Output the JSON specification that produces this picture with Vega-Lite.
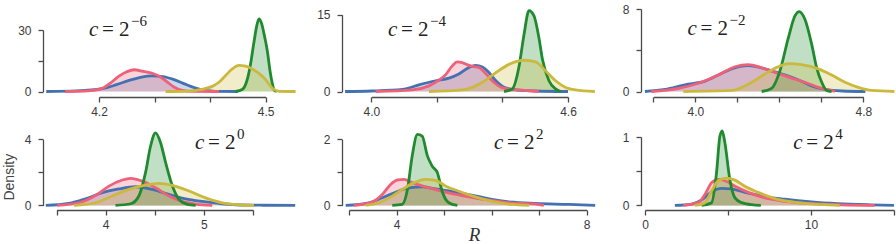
{
"$schema":"https://vega.github.io/schema/vega-lite/v6.json",
"background":"white",
"padding":{"left":2,"top":3,"right":0,"bottom":0},
"data":{"values":[
{"p":1,"s":"a","R":4.105,"d":0},{"p":1,"s":"a","R":4.16,"d":0.3},{"p":1,"s":"a","R":4.206,"d":1.4},{"p":1,"s":"a","R":4.23,"d":3.2},{"p":1,"s":"a","R":4.254,"d":5.4},{"p":1,"s":"a","R":4.275,"d":6.9},{"p":1,"s":"a","R":4.296,"d":7.6},{"p":1,"s":"a","R":4.315,"d":7.3},{"p":1,"s":"a","R":4.335,"d":5.8},{"p":1,"s":"a","R":4.355,"d":3.6},{"p":1,"s":"a","R":4.374,"d":1.7},{"p":1,"s":"a","R":4.392,"d":0.5},{"p":1,"s":"a","R":4.41,"d":0.1},{"p":1,"s":"a","R":4.45,"d":0},
{"p":1,"s":"b","R":4.139,"d":0},{"p":1,"s":"b","R":4.18,"d":0.3},{"p":1,"s":"b","R":4.206,"d":1.5},{"p":1,"s":"b","R":4.22,"d":4.0},{"p":1,"s":"b","R":4.236,"d":7.5},{"p":1,"s":"b","R":4.25,"d":9.6},{"p":1,"s":"b","R":4.263,"d":10.6},{"p":1,"s":"b","R":4.28,"d":9.8},{"p":1,"s":"b","R":4.296,"d":8.9},{"p":1,"s":"b","R":4.31,"d":7.2},{"p":1,"s":"b","R":4.322,"d":4.8},{"p":1,"s":"b","R":4.335,"d":2.2},{"p":1,"s":"b","R":4.35,"d":0.5},{"p":1,"s":"b","R":4.37,"d":0.05},{"p":1,"s":"b","R":4.416,"d":0},
{"p":1,"s":"c","R":4.446,"d":0},{"p":1,"s":"c","R":4.458,"d":1},{"p":1,"s":"c","R":4.466,"d":5},{"p":1,"s":"c","R":4.472,"d":12},{"p":1,"s":"c","R":4.479,"d":24},{"p":1,"s":"c","R":4.484,"d":32},{"p":1,"s":"c","R":4.488,"d":35.4},{"p":1,"s":"c","R":4.493,"d":33},{"p":1,"s":"c","R":4.498,"d":27},{"p":1,"s":"c","R":4.503,"d":20},{"p":1,"s":"c","R":4.508,"d":10},{"p":1,"s":"c","R":4.512,"d":4},{"p":1,"s":"c","R":4.516,"d":0.5},{"p":1,"s":"c","R":4.52,"d":0},
{"p":1,"s":"d","R":4.32,"d":0},{"p":1,"s":"d","R":4.355,"d":0.1},{"p":1,"s":"d","R":4.374,"d":0.6},{"p":1,"s":"d","R":4.39,"d":1.3},{"p":1,"s":"d","R":4.404,"d":2.5},{"p":1,"s":"d","R":4.416,"d":4.5},{"p":1,"s":"d","R":4.428,"d":7.8},{"p":1,"s":"d","R":4.44,"d":11.0},{"p":1,"s":"d","R":4.452,"d":12.7},{"p":1,"s":"d","R":4.464,"d":12.4},{"p":1,"s":"d","R":4.476,"d":11.0},{"p":1,"s":"d","R":4.488,"d":8.8},{"p":1,"s":"d","R":4.5,"d":5.8},{"p":1,"s":"d","R":4.508,"d":3.0},{"p":1,"s":"d","R":4.515,"d":1.0},{"p":1,"s":"d","R":4.525,"d":0.1},{"p":1,"s":"d","R":4.554,"d":0},
{"p":2,"s":"a","R":3.92,"d":0},{"p":2,"s":"a","R":4.0,"d":0.1},{"p":2,"s":"a","R":4.095,"d":0.4},{"p":2,"s":"a","R":4.145,"d":1.3},{"p":2,"s":"a","R":4.196,"d":2.1},{"p":2,"s":"a","R":4.237,"d":2.6},{"p":2,"s":"a","R":4.267,"d":3.4},{"p":2,"s":"a","R":4.298,"d":4.7},{"p":2,"s":"a","R":4.318,"d":5.1},{"p":2,"s":"a","R":4.339,"d":4.8},{"p":2,"s":"a","R":4.359,"d":3.7},{"p":2,"s":"a","R":4.38,"d":2.1},{"p":2,"s":"a","R":4.41,"d":0.7},{"p":2,"s":"a","R":4.45,"d":0.25},{"p":2,"s":"a","R":4.5,"d":0.1},{"p":2,"s":"a","R":4.6,"d":0},
{"p":2,"s":"b","R":4.013,"d":0},{"p":2,"s":"b","R":4.125,"d":0.3},{"p":2,"s":"b","R":4.176,"d":1.1},{"p":2,"s":"b","R":4.206,"d":2.2},{"p":2,"s":"b","R":4.227,"d":3.3},{"p":2,"s":"b","R":4.247,"d":5.0},{"p":2,"s":"b","R":4.262,"d":5.8},{"p":2,"s":"b","R":4.275,"d":5.7},{"p":2,"s":"b","R":4.29,"d":5.3},{"p":2,"s":"b","R":4.308,"d":4.9},{"p":2,"s":"b","R":4.328,"d":4.7},{"p":2,"s":"b","R":4.349,"d":3.5},{"p":2,"s":"b","R":4.374,"d":1.8},{"p":2,"s":"b","R":4.4,"d":0.7},{"p":2,"s":"b","R":4.45,"d":0.3},{"p":2,"s":"b","R":4.511,"d":0},
{"p":2,"s":"c","R":4.405,"d":0},{"p":2,"s":"c","R":4.43,"d":0.5},{"p":2,"s":"c","R":4.45,"d":4.7},{"p":2,"s":"c","R":4.466,"d":11.2},{"p":2,"s":"c","R":4.481,"d":15.8},{"p":2,"s":"c","R":4.496,"d":14.8},{"p":2,"s":"c","R":4.511,"d":10.6},{"p":2,"s":"c","R":4.522,"d":6.3},{"p":2,"s":"c","R":4.542,"d":2.1},{"p":2,"s":"c","R":4.562,"d":0.5},{"p":2,"s":"c","R":4.578,"d":0},
{"p":2,"s":"d","R":4.176,"d":0},{"p":2,"s":"d","R":4.278,"d":0.3},{"p":2,"s":"d","R":4.339,"d":1.8},{"p":2,"s":"d","R":4.38,"d":3.7},{"p":2,"s":"d","R":4.42,"d":5.3},{"p":2,"s":"d","R":4.466,"d":6.1},{"p":2,"s":"d","R":4.501,"d":5.8},{"p":2,"s":"d","R":4.532,"d":4.0},{"p":2,"s":"d","R":4.562,"d":2.1},{"p":2,"s":"d","R":4.593,"d":0.8},{"p":2,"s":"d","R":4.623,"d":0.3},{"p":2,"s":"d","R":4.682,"d":0},
{"p":3,"s":"a","R":3.76,"d":0},{"p":3,"s":"a","R":3.856,"d":0.2},{"p":3,"s":"a","R":3.951,"d":0.65},{"p":3,"s":"a","R":4.046,"d":1.0},{"p":3,"s":"a","R":4.11,"d":1.6},{"p":3,"s":"a","R":4.173,"d":2.2},{"p":3,"s":"a","R":4.252,"d":2.5},{"p":3,"s":"a","R":4.316,"d":2.3},{"p":3,"s":"a","R":4.379,"d":1.9},{"p":3,"s":"a","R":4.443,"d":1.5},{"p":3,"s":"a","R":4.506,"d":1.0},{"p":3,"s":"a","R":4.554,"d":0.55},{"p":3,"s":"a","R":4.617,"d":0.2},{"p":3,"s":"a","R":4.7,"d":0.05},{"p":3,"s":"a","R":4.81,"d":0},
{"p":3,"s":"b","R":3.79,"d":0},{"p":3,"s":"b","R":3.92,"d":0.3},{"p":3,"s":"b","R":4.014,"d":0.8},{"p":3,"s":"b","R":4.11,"d":1.6},{"p":3,"s":"b","R":4.189,"d":2.4},{"p":3,"s":"b","R":4.252,"d":2.6},{"p":3,"s":"b","R":4.316,"d":2.3},{"p":3,"s":"b","R":4.379,"d":1.85},{"p":3,"s":"b","R":4.459,"d":1.3},{"p":3,"s":"b","R":4.522,"d":0.9},{"p":3,"s":"b","R":4.586,"d":0.4},{"p":3,"s":"b","R":4.649,"d":0.1},{"p":3,"s":"b","R":4.665,"d":0},
{"p":3,"s":"c","R":4.316,"d":0},{"p":3,"s":"c","R":4.363,"d":0.3},{"p":3,"s":"c","R":4.403,"d":2.0},{"p":3,"s":"c","R":4.443,"d":5.2},{"p":3,"s":"c","R":4.475,"d":7.35},{"p":3,"s":"c","R":4.495,"d":7.75},{"p":3,"s":"c","R":4.522,"d":7.0},{"p":3,"s":"c","R":4.554,"d":4.6},{"p":3,"s":"c","R":4.578,"d":2.3},{"p":3,"s":"c","R":4.602,"d":0.9},{"p":3,"s":"c","R":4.625,"d":0.1},{"p":3,"s":"c","R":4.649,"d":0},
{"p":3,"s":"d","R":3.943,"d":0},{"p":3,"s":"d","R":4.173,"d":0.1},{"p":3,"s":"d","R":4.252,"d":0.7},{"p":3,"s":"d","R":4.332,"d":1.7},{"p":3,"s":"d","R":4.395,"d":2.4},{"p":3,"s":"d","R":4.443,"d":2.7},{"p":3,"s":"d","R":4.506,"d":2.6},{"p":3,"s":"d","R":4.586,"d":2.2},{"p":3,"s":"d","R":4.649,"d":1.6},{"p":3,"s":"d","R":4.713,"d":0.9},{"p":3,"s":"d","R":4.776,"d":0.4},{"p":3,"s":"d","R":4.84,"d":0.1},{"p":3,"s":"d","R":4.948,"d":0},
{"p":4,"s":"a","R":3.39,"d":0},{"p":4,"s":"a","R":3.626,"d":0.12},{"p":4,"s":"a","R":3.795,"d":0.4},{"p":4,"s":"a","R":3.965,"d":0.77},{"p":4,"s":"a","R":4.135,"d":1.0},{"p":4,"s":"a","R":4.305,"d":1.13},{"p":4,"s":"a","R":4.474,"d":0.97},{"p":4,"s":"a","R":4.644,"d":0.67},{"p":4,"s":"a","R":4.814,"d":0.4},{"p":4,"s":"a","R":4.983,"d":0.24},{"p":4,"s":"a","R":5.153,"d":0.12},{"p":4,"s":"a","R":5.323,"d":0.04},{"p":4,"s":"a","R":5.6,"d":0.01},{"p":4,"s":"a","R":5.93,"d":0},
{"p":4,"s":"b","R":3.507,"d":0},{"p":4,"s":"b","R":3.727,"d":0.16},{"p":4,"s":"b","R":3.897,"d":0.6},{"p":4,"s":"b","R":4.033,"d":1.17},{"p":4,"s":"b","R":4.169,"d":1.54},{"p":4,"s":"b","R":4.254,"d":1.64},{"p":4,"s":"b","R":4.372,"d":1.47},{"p":4,"s":"b","R":4.508,"d":1.07},{"p":4,"s":"b","R":4.644,"d":0.57},{"p":4,"s":"b","R":4.78,"d":0.24},{"p":4,"s":"b","R":4.916,"d":0.08},{"p":4,"s":"b","R":5.085,"d":0},
{"p":4,"s":"c","R":4.1,"d":0},{"p":4,"s":"c","R":4.254,"d":0.1},{"p":4,"s":"c","R":4.338,"d":0.57},{"p":4,"s":"c","R":4.406,"d":2.0},{"p":4,"s":"c","R":4.457,"d":3.6},{"p":4,"s":"c","R":4.508,"d":4.4},{"p":4,"s":"c","R":4.559,"d":3.8},{"p":4,"s":"c","R":4.61,"d":2.6},{"p":4,"s":"c","R":4.678,"d":1.2},{"p":4,"s":"c","R":4.746,"d":0.36},{"p":4,"s":"c","R":4.831,"d":0.06},{"p":4,"s":"c","R":4.916,"d":0},
{"p":4,"s":"d","R":3.677,"d":0},{"p":4,"s":"d","R":3.897,"d":0.16},{"p":4,"s":"d","R":4.067,"d":0.57},{"p":4,"s":"d","R":4.237,"d":0.97},{"p":4,"s":"d","R":4.406,"d":1.23},{"p":4,"s":"d","R":4.542,"d":1.33},{"p":4,"s":"d","R":4.678,"d":1.21},{"p":4,"s":"d","R":4.848,"d":0.87},{"p":4,"s":"d","R":5.017,"d":0.46},{"p":4,"s":"d","R":5.187,"d":0.16},{"p":4,"s":"d","R":5.357,"d":0.04},{"p":4,"s":"d","R":5.51,"d":0},
{"p":5,"s":"a","R":2.93,"d":0},{"p":5,"s":"a","R":3.42,"d":0.08},{"p":5,"s":"a","R":3.7,"d":0.23},{"p":5,"s":"a","R":3.98,"d":0.4},{"p":5,"s":"a","R":4.26,"d":0.53},{"p":5,"s":"a","R":4.54,"d":0.56},{"p":5,"s":"a","R":4.82,"d":0.5},{"p":5,"s":"a","R":5.17,"d":0.42},{"p":5,"s":"a","R":5.52,"d":0.33},{"p":5,"s":"a","R":5.95,"d":0.2},{"p":5,"s":"a","R":6.37,"d":0.11},{"p":5,"s":"a","R":6.93,"d":0.06},{"p":5,"s":"a","R":7.63,"d":0.03},{"p":5,"s":"a","R":8.18,"d":0},
{"p":5,"s":"b","R":3.1,"d":0},{"p":5,"s":"b","R":3.49,"d":0.1},{"p":5,"s":"b","R":3.7,"d":0.33},{"p":5,"s":"b","R":3.88,"d":0.64},{"p":5,"s":"b","R":4.02,"d":0.77},{"p":5,"s":"b","R":4.16,"d":0.79},{"p":5,"s":"b","R":4.33,"d":0.69},{"p":5,"s":"b","R":4.54,"d":0.59},{"p":5,"s":"b","R":4.82,"d":0.48},{"p":5,"s":"b","R":5.1,"d":0.38},{"p":5,"s":"b","R":5.52,"d":0.26},{"p":5,"s":"b","R":5.95,"d":0.16},{"p":5,"s":"b","R":6.37,"d":0.08},{"p":5,"s":"b","R":6.93,"d":0.04},{"p":5,"s":"b","R":7.1,"d":0},
{"p":5,"s":"c","R":3.91,"d":0},{"p":5,"s":"c","R":4.12,"d":0.03},{"p":5,"s":"c","R":4.23,"d":0.48},{"p":5,"s":"c","R":4.33,"d":1.5},{"p":5,"s":"c","R":4.44,"d":2.15},{"p":5,"s":"c","R":4.54,"d":2.1},{"p":5,"s":"c","R":4.65,"d":1.5},{"p":5,"s":"c","R":4.75,"d":1.19},{"p":5,"s":"c","R":4.86,"d":0.99},{"p":5,"s":"c","R":4.96,"d":0.43},{"p":5,"s":"c","R":5.1,"d":0.08},{"p":5,"s":"c","R":5.28,"d":0},
{"p":5,"s":"d","R":3.35,"d":0},{"p":5,"s":"d","R":3.63,"d":0.08},{"p":5,"s":"d","R":3.91,"d":0.28},{"p":5,"s":"d","R":4.12,"d":0.48},{"p":5,"s":"d","R":4.33,"d":0.66},{"p":5,"s":"d","R":4.61,"d":0.79},{"p":5,"s":"d","R":4.82,"d":0.76},{"p":5,"s":"d","R":5.03,"d":0.59},{"p":5,"s":"d","R":5.31,"d":0.43},{"p":5,"s":"d","R":5.66,"d":0.26},{"p":5,"s":"d","R":6.02,"d":0.12},{"p":5,"s":"d","R":6.37,"d":0.04},{"p":5,"s":"d","R":6.79,"d":0},
{"p":6,"s":"a","R":1.8,"d":0},{"p":6,"s":"a","R":2.81,"d":0.02},{"p":6,"s":"a","R":3.41,"d":0.08},{"p":6,"s":"a","R":4.01,"d":0.2},{"p":6,"s":"a","R":4.61,"d":0.25},{"p":6,"s":"a","R":5.21,"d":0.24},{"p":6,"s":"a","R":6.02,"d":0.19},{"p":6,"s":"a","R":7.22,"d":0.13},{"p":6,"s":"a","R":8.42,"d":0.09},{"p":6,"s":"a","R":10.03,"d":0.05},{"p":6,"s":"a","R":11.63,"d":0.025},{"p":6,"s":"a","R":13.64,"d":0.008},{"p":6,"s":"a","R":15.0,"d":0},
{"p":6,"s":"b","R":2.3,"d":0},{"p":6,"s":"b","R":3.21,"d":0.04},{"p":6,"s":"b","R":3.61,"d":0.16},{"p":6,"s":"b","R":4.01,"d":0.33},{"p":6,"s":"b","R":4.41,"d":0.38},{"p":6,"s":"b","R":4.81,"d":0.36},{"p":6,"s":"b","R":5.42,"d":0.28},{"p":6,"s":"b","R":6.22,"d":0.19},{"p":6,"s":"b","R":7.22,"d":0.11},{"p":6,"s":"b","R":8.42,"d":0.06},{"p":6,"s":"b","R":10.03,"d":0.025},{"p":6,"s":"b","R":11.83,"d":0.008},{"p":6,"s":"b","R":13.84,"d":0},
{"p":6,"s":"c","R":3.41,"d":0},{"p":6,"s":"c","R":4.01,"d":0.04},{"p":6,"s":"c","R":4.31,"d":0.48},{"p":6,"s":"c","R":4.51,"d":1.01},{"p":6,"s":"c","R":4.65,"d":1.09},{"p":6,"s":"c","R":4.81,"d":0.92},{"p":6,"s":"c","R":5.11,"d":0.38},{"p":6,"s":"c","R":5.42,"d":0.11},{"p":6,"s":"c","R":5.82,"d":0.04},{"p":6,"s":"c","R":6.42,"d":0.01},{"p":6,"s":"c","R":6.98,"d":0},
{"p":6,"s":"d","R":3.01,"d":0},{"p":6,"s":"d","R":3.61,"d":0.04},{"p":6,"s":"d","R":4.01,"d":0.21},{"p":6,"s":"d","R":4.41,"d":0.36},{"p":6,"s":"d","R":4.91,"d":0.4},{"p":6,"s":"d","R":5.42,"d":0.37},{"p":6,"s":"d","R":6.02,"d":0.28},{"p":6,"s":"d","R":6.82,"d":0.19},{"p":6,"s":"d","R":7.82,"d":0.1},{"p":6,"s":"d","R":9.23,"d":0.04},{"p":6,"s":"d","R":10.83,"d":0.01},{"p":6,"s":"d","R":11.73,"d":0}
]},
"columns":3,
"spacing":{"row":21,"column":45},
"bounds":"flush",
"concat":[
{"width":254,"height":92,"layer":[
 {"transform":[{"filter":"datum.p==1"}],
  "encoding":{
   "x":{"field":"R","type":"quantitative","scale":{"domain":[4.2,4.5],"range":[56,222.6],"nice":false},"axis":{"values":[4.2,4.3,4.4,4.5],"format":".1f","labelExpr":"datum.value==4.2||datum.value==4.5?datum.label:''","title":null}},
   "y":{"field":"d","type":"quantitative","stack":null,"scale":{"domain":[0,30],"range":[86.5,25],"nice":false},"axis":{"values":[0,15,30],"format":".0f","labelExpr":"datum.value==0||datum.value==30?datum.label:''","title":null}},
   "color":{"field":"s","type":"nominal","scale":{"domain":["a","b","c","d"],"range":["#4472b0","#ef6079","#1f8b2e","#cbb93f"]},"legend":null}},
  "layer":[{"mark":{"type":"area","interpolate":"monotone","fillOpacity":0.28}},{"mark":{"type":"line","interpolate":"monotone","strokeWidth":2.8}}]},
 {"data":{"values":[{"t1":"c","t2":"= 2","t3":"−6"}]},
  "encoding":{"x":{"datum":4.182,"type":"quantitative"},"y":{"datum":27.2,"type":"quantitative"}},
  "layer":[
   {"mark":{"type":"text","font":"Liberation Serif","fontStyle":"italic","fontSize":21,"align":"left","baseline":"alphabetic","color":"#222"},"encoding":{"text":{"field":"t1"}}},
   {"mark":{"type":"text","font":"Liberation Serif","fontSize":21,"align":"left","baseline":"alphabetic","dx":13,"color":"#222"},"encoding":{"text":{"field":"t2"}}},
   {"mark":{"type":"text","font":"Liberation Serif","fontSize":15,"align":"left","baseline":"alphabetic","dx":42,"dy":-10,"color":"#222"},"encoding":{"text":{"field":"t3"}}}]}
]},
{"width":254,"height":92,"layer":[
 {"transform":[{"filter":"datum.p==2"}],
  "encoding":{
   "x":{"field":"R","type":"quantitative","scale":{"domain":[4.0,4.6],"range":[29.3,226],"nice":false},"axis":{"values":[4.0,4.2,4.4,4.6],"format":".1f","labelExpr":"datum.value==4||datum.value==4.6?datum.label:''","title":null}},
   "y":{"field":"d","type":"quantitative","stack":null,"scale":{"domain":[0,15],"range":[86.5,9.7],"nice":false},"axis":{"values":[0,5,10,15],"format":".0f","labelExpr":"datum.value==0||datum.value==15?datum.label:''","title":null}},
   "color":{"field":"s","type":"nominal","legend":null}},
  "layer":[{"mark":{"type":"area","interpolate":"monotone","fillOpacity":0.28}},{"mark":{"type":"line","interpolate":"monotone","strokeWidth":2.8}}]},
 {"data":{"values":[{"t1":"c","t2":"= 2","t3":"−4"}]},
  "encoding":{"x":{"datum":4.051,"type":"quantitative"},"y":{"datum":10.9,"type":"quantitative"}},
  "layer":[
   {"mark":{"type":"text","font":"Liberation Serif","fontStyle":"italic","fontSize":21,"align":"left","baseline":"alphabetic","color":"#222"},"encoding":{"text":{"field":"t1"}}},
   {"mark":{"type":"text","font":"Liberation Serif","fontSize":21,"align":"left","baseline":"alphabetic","dx":13,"color":"#222"},"encoding":{"text":{"field":"t2"}}},
   {"mark":{"type":"text","font":"Liberation Serif","fontSize":15,"align":"left","baseline":"alphabetic","dx":42,"dy":-10,"color":"#222"},"encoding":{"text":{"field":"t3"}}}]}
]},
{"width":254,"height":92,"layer":[
 {"transform":[{"filter":"datum.p==3"}],
  "encoding":{
   "x":{"field":"R","type":"quantitative","scale":{"domain":[3.8,4.8],"range":[12.3,222.3],"nice":false},"axis":{"values":[3.8,4.0,4.2,4.4,4.6,4.8],"format":".1f","labelExpr":"datum.value==4||datum.value==4.8?datum.label:''","title":null}},
   "y":{"field":"d","type":"quantitative","stack":null,"scale":{"domain":[0,8],"range":[86.5,4],"nice":false},"axis":{"values":[0,4,8],"format":".0f","labelExpr":"datum.value==0||datum.value==8?datum.label:''","title":null}},
   "color":{"field":"s","type":"nominal","legend":null}},
  "layer":[{"mark":{"type":"area","interpolate":"monotone","fillOpacity":0.28}},{"mark":{"type":"line","interpolate":"monotone","strokeWidth":2.8}}]},
 {"data":{"values":[{"t1":"c","t2":"= 2","t3":"−2"}]},
  "encoding":{"x":{"datum":3.963,"type":"quantitative"},"y":{"datum":5.48,"type":"quantitative"}},
  "layer":[
   {"mark":{"type":"text","font":"Liberation Serif","fontStyle":"italic","fontSize":21,"align":"left","baseline":"alphabetic","color":"#222"},"encoding":{"text":{"field":"t1"}}},
   {"mark":{"type":"text","font":"Liberation Serif","fontSize":21,"align":"left","baseline":"alphabetic","dx":13,"color":"#222"},"encoding":{"text":{"field":"t2"}}},
   {"mark":{"type":"text","font":"Liberation Serif","fontSize":15,"align":"left","baseline":"alphabetic","dx":42,"dy":-10,"color":"#222"},"encoding":{"text":{"field":"t3"}}}]}
]},
{"width":254,"height":92,"layer":[
 {"transform":[{"filter":"datum.p==4"}],
  "encoding":{
   "x":{"field":"R","type":"quantitative","scale":{"domain":[3.5,5.5],"range":[13.6,210],"nice":false},"axis":{"values":[3.5,4,4.5,5,5.5],"format":".0f","labelExpr":"datum.value==4||datum.value==5?datum.label:''","title":null}},
   "y":{"field":"d","type":"quantitative","stack":null,"scale":{"domain":[0,4],"range":[87.4,21.4],"nice":false},"axis":{"values":[0,2,4],"format":".0f","labelExpr":"datum.value==0||datum.value==4?datum.label:''","title":"Density","titleFont":"Liberation Sans","titleFontSize":14,"titleFontWeight":"normal","titleColor":"#444","titlePadding":8,"titleY":58.7}},
   "color":{"field":"s","type":"nominal","legend":null}},
  "layer":[{"mark":{"type":"area","interpolate":"monotone","fillOpacity":0.28}},{"mark":{"type":"line","interpolate":"monotone","strokeWidth":2.8}}]},
 {"data":{"values":[{"t1":"c","t2":"= 2","t3":"0"}]},
  "encoding":{"x":{"datum":4.909,"type":"quantitative"},"y":{"datum":3.39,"type":"quantitative"}},
  "layer":[
   {"mark":{"type":"text","font":"Liberation Serif","fontStyle":"italic","fontSize":21,"align":"left","baseline":"alphabetic","color":"#222"},"encoding":{"text":{"field":"t1"}}},
   {"mark":{"type":"text","font":"Liberation Serif","fontSize":21,"align":"left","baseline":"alphabetic","dx":13,"color":"#222"},"encoding":{"text":{"field":"t2"}}},
   {"mark":{"type":"text","font":"Liberation Serif","fontSize":15,"align":"left","baseline":"alphabetic","dx":42,"dy":-10,"color":"#222"},"encoding":{"text":{"field":"t3"}}}]}
]},
{"width":254,"height":92,"layer":[
 {"transform":[{"filter":"datum.p==5"}],
  "encoding":{
   "x":{"field":"R","type":"quantitative","scale":{"domain":[3,8],"range":[7,244.6],"nice":false},"axis":{"values":[3,4,5,6,7,8],"format":".0f","labelExpr":"datum.value==4||datum.value==8?datum.label:''","title":"R","titleFont":"Liberation Serif","titleFontStyle":"italic","titleFontSize":19,"titleFontWeight":"normal","titleColor":"#333","titlePadding":-5,"titleX":132}},
   "y":{"field":"d","type":"quantitative","stack":null,"scale":{"domain":[0,2],"range":[87.4,21.4],"nice":false},"axis":{"values":[0,1,2],"format":".0f","labelExpr":"datum.value==0||datum.value==2?datum.label:''","title":null}},
   "color":{"field":"s","type":"nominal","legend":null}},
  "layer":[{"mark":{"type":"area","interpolate":"monotone","fillOpacity":0.28}},{"mark":{"type":"line","interpolate":"monotone","strokeWidth":2.8}}]},
 {"data":{"values":[{"t1":"c","t2":"= 2","t3":"2"}]},
  "encoding":{"x":{"datum":6.051,"type":"quantitative"},"y":{"datum":1.697,"type":"quantitative"}},
  "layer":[
   {"mark":{"type":"text","font":"Liberation Serif","fontStyle":"italic","fontSize":21,"align":"left","baseline":"alphabetic","color":"#222"},"encoding":{"text":{"field":"t1"}}},
   {"mark":{"type":"text","font":"Liberation Serif","fontSize":21,"align":"left","baseline":"alphabetic","dx":13,"color":"#222"},"encoding":{"text":{"field":"t2"}}},
   {"mark":{"type":"text","font":"Liberation Serif","fontSize":15,"align":"left","baseline":"alphabetic","dx":42,"dy":-10,"color":"#222"},"encoding":{"text":{"field":"t3"}}}]}
]},
{"width":254,"height":92,"layer":[
 {"transform":[{"filter":"datum.p==6"}],
  "encoding":{
   "x":{"field":"R","type":"quantitative","scale":{"domain":[0,15],"range":[4,253],"nice":false},"axis":{"values":[0,5,10,15],"format":".0f","labelExpr":"datum.value==0||datum.value==10?datum.label:''","title":null}},
   "y":{"field":"d","type":"quantitative","stack":null,"scale":{"domain":[0,1],"range":[87.4,19],"nice":false},"axis":{"values":[0,0.5,1],"format":".0f","labelExpr":"datum.value==0||datum.value==1?datum.label:''","title":null}},
   "color":{"field":"s","type":"nominal","legend":null}},
  "layer":[{"mark":{"type":"area","interpolate":"monotone","fillOpacity":0.28}},{"mark":{"type":"line","interpolate":"monotone","strokeWidth":2.8}}]},
 {"data":{"values":[{"t1":"c","t2":"= 2","t3":"4"}]},
  "encoding":{"x":{"datum":8.93,"type":"quantitative"},"y":{"datum":0.819,"type":"quantitative"}},
  "layer":[
   {"mark":{"type":"text","font":"Liberation Serif","fontStyle":"italic","fontSize":21,"align":"left","baseline":"alphabetic","color":"#222"},"encoding":{"text":{"field":"t1"}}},
   {"mark":{"type":"text","font":"Liberation Serif","fontSize":21,"align":"left","baseline":"alphabetic","dx":13,"color":"#222"},"encoding":{"text":{"field":"t2"}}},
   {"mark":{"type":"text","font":"Liberation Serif","fontSize":15,"align":"left","baseline":"alphabetic","dx":42,"dy":-10,"color":"#222"},"encoding":{"text":{"field":"t3"}}}]}
]}
],
"config":{
 "view":{"stroke":null},
 "axis":{"grid":false,"domainColor":"#4a4a4a","tickColor":"#4a4a4a","domainWidth":1.3,"tickWidth":1.3,"tickSize":5,"labelFont":"Liberation Sans","labelFontSize":12,"labelColor":"#3a3a3a","labelFlush":false,"labelOverlap":false},
 "axisX":{"labelPadding":4},
 "axisY":{"labelPadding":7}
}
}
